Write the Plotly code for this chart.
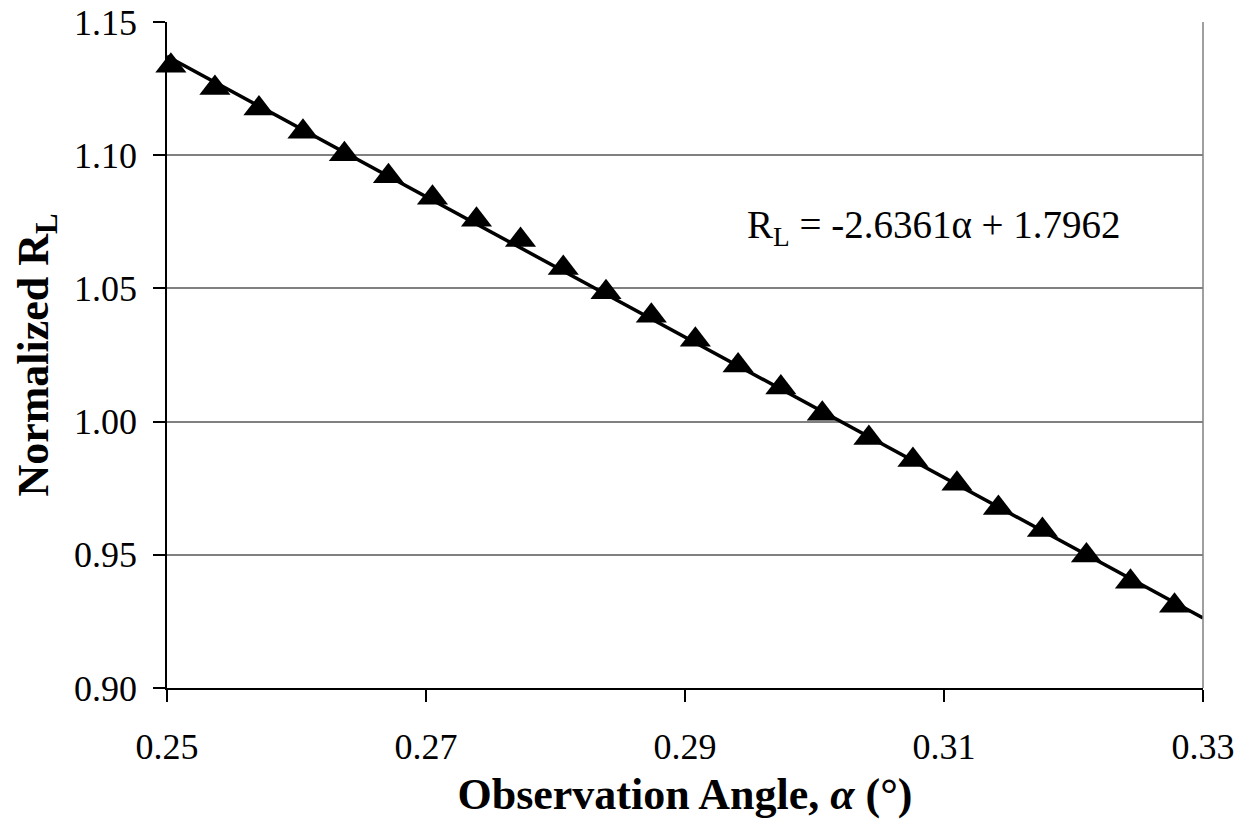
import plotly.graph_objects as go

# Observation angle (degrees) and normalized retroreflectance
alpha = [0.2503, 0.2537, 0.2571, 0.2605, 0.2637, 0.2671, 0.2705, 0.2739,
         0.2773, 0.2806, 0.2839, 0.2874, 0.2908, 0.2941, 0.2974, 0.3006,
         0.3042, 0.3076, 0.3110, 0.3142, 0.3176, 0.3210, 0.3244, 0.3278]
rl_norm = [1.1336, 1.1252, 1.1175, 1.1088, 1.1004, 1.0921, 1.0840, 1.0758,
           1.0682, 1.0577, 1.0486, 1.0397, 1.0307, 1.0211, 1.0128, 1.0029,
           0.9938, 0.9856, 0.9767, 0.9676, 0.9593, 0.9497, 0.9399, 0.9309]

# Linear trendline coefficients
SLOPE = -2.6361
INTERCEPT = 1.7962
trend_x = [0.25, 0.33]
trend_y = [SLOPE * x + INTERCEPT for x in trend_x]

x_ticks = [0.25, 0.27, 0.29, 0.31, 0.33]
y_ticks = [0.90, 0.95, 1.00, 1.05, 1.10, 1.15]

SERIF = "Liberation Serif, Times New Roman, serif"

fig = go.Figure()
fig.add_trace(go.Scatter(
    x=alpha, y=rl_norm, mode="markers",
    marker=dict(symbol="triangle-up", size=27, color="black"),
    showlegend=False, cliponaxis=False,
))
fig.add_trace(go.Scatter(
    x=trend_x, y=trend_y, mode="lines",
    line=dict(color="black", width=3.5),
    showlegend=False,
))

fig.add_annotation(
    x=0.3092, y=1.0727, xref="x", yref="y",
    text="R<sub>L</sub> = -2.6361α + 1.7962",
    showarrow=False, xanchor="center", yanchor="middle",
    font=dict(family=SERIF, size=39, color="black"),
)

# right-hand plot border
fig.add_shape(type="line", xref="paper", yref="paper",
              x0=1, x1=1, y0=0, y1=1,
              line=dict(color="#808080", width=1.5))

fig.update_layout(
    width=1241, height=829,
    margin=dict(l=167, r=38, t=22, b=141),
    paper_bgcolor="white", plot_bgcolor="white",
    font=dict(family=SERIF, color="black"),
    xaxis=dict(
        range=[0.25, 0.33], tickvals=x_ticks, tickformat=".2f",
        automargin=False,
        showgrid=False, zeroline=False,
        showline=True, linecolor="black", linewidth=1.5,
        ticks="outside", ticklen=12, tickwidth=1.5, tickcolor="black",
        tickfont=dict(family=SERIF, size=36, color="black"),
        ticklabelstandoff=14,
        title=dict(text="<b>Observation Angle, <i>α</i> (°)</b>",
                   font=dict(family=SERIF, size=44, color="black"),
                   standoff=12),
    ),
    yaxis=dict(
        range=[0.90, 1.15], tickvals=y_ticks, tickformat=".2f",
        automargin=False,
        showgrid=True, gridcolor="#808080", gridwidth=1.5,
        zeroline=False,
        showline=True, linecolor="black", linewidth=1.5,
        ticks="outside", ticklen=12, tickwidth=1.5, tickcolor="black",
        tickfont=dict(family=SERIF, size=36, color="black"),
        ticklabelstandoff=9,
        title=dict(text="<b>Normalized R<sub>L</sub></b>",
                   font=dict(family=SERIF, size=44, color="black"),
                   standoff=12),
    ),
)

fig.write_html("out.html")
